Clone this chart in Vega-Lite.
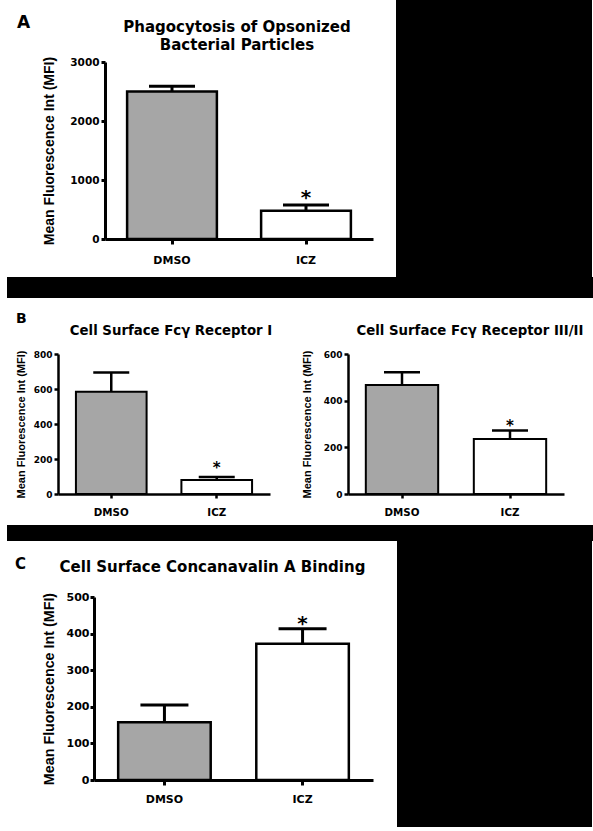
{
"$schema":"https://vega.github.io/schema/vega-lite/v6.json",
"background":"white",
"padding":0,
"spacing":0,
"bounds":"full",
"config":{
 "view":{"stroke":null},
 "concat":{"spacing":0},
 "axis":{"domainColor":"black","domainWidth":3,"tickColor":"black","tickWidth":3,"labelColor":"black","labelFont":"DejaVu Sans","labelFontWeight":"bold","titleFont":"Liberation Sans","titleFontWeight":"bold","titleColor":"black","grid":false},
 "axisX":{"labelAngle":0,"zindex":1},
 "title":{"font":"DejaVu Sans","fontWeight":"bold","color":"black","frame":"group"}
},
"vconcat":[
 {"hconcat":[
  {"concat":[
   {"width":103,"height":62,"data":{"values":[{"s":0}]},"mark":{"type":"point","opacity":0}},
   {"width":268,"height":62,"data":{"values":[{"s":0}]},"mark":{"type":"point","opacity":0}},
   {"width":103,"height":177,"data":{"values":[{"s":0}]},"mark":{"type":"point","opacity":0},"title":{"text":"A","anchor":"start","dx":15,"offset":30,"fontSize":17}},
   {"width":268,"height":177,
    "data":{"values":[{"group":"DMSO","mean":2500,"upper":2590,"sig":""},{"group":"ICZ","mean":480,"upper":575,"sig":"*"}]},
    "title":{"text":["Phagocytosis of Opsonized","Bacterial Particles"],"anchor":"middle","dx":-2,"offset":3,"lineHeight":18.4,"fontSize":15},
    "encoding":{"x":{"field":"group","type":"nominal","sort":["DMSO","ICZ"],"scale":{"paddingInner":0.33,"paddingOuter":0.165},"axis":{"title":null,"labelFontSize":11,"labelPadding":10,"tickSize":5}}},
    "layer":[
     {"mark":{"type":"bar","stroke":"black","strokeWidth":2.5},
      "encoding":{"y":{"field":"mean","type":"quantitative","scale":{"domain":[0,3000],"nice":false},"axis":{"values":[0,1000,2000,3000],"format":"d","title":"Mean Fluorescence Int (MFI)","titleFontSize":14,"titlePadding":13,"labelFontSize":10.5,"labelPadding":2,"tickSize":4}},
       "fill":{"field":"group","type":"nominal","scale":{"domain":["DMSO","ICZ"],"range":["#a6a6a6","#ffffff"]},"legend":null}}},
     {"mark":{"type":"rule","color":"black","strokeWidth":3},"encoding":{"y":{"field":"mean","type":"quantitative","axis":{"values":[0,1000,2000,3000],"format":"d","title":"Mean Fluorescence Int (MFI)","titleFontSize":14,"titlePadding":13,"labelFontSize":10.5,"labelPadding":2,"tickSize":4}},"y2":{"field":"upper"}}},
     {"mark":{"type":"tick","color":"black","size":46,"thickness":3,"opacity":1},"encoding":{"y":{"field":"upper","type":"quantitative","axis":{"values":[0,1000,2000,3000],"format":"d","title":"Mean Fluorescence Int (MFI)","titleFontSize":14,"titlePadding":13,"labelFontSize":10.5,"labelPadding":2,"tickSize":4}}}},
     {"mark":{"type":"text","font":"DejaVu Sans","fontWeight":"bold","fontSize":20,"baseline":"alphabetic","dy":-1.3,"color":"black"},"encoding":{"y":{"field":"upper","type":"quantitative","axis":{"values":[0,1000,2000,3000],"format":"d","title":"Mean Fluorescence Int (MFI)","titleFontSize":14,"titlePadding":13,"labelFontSize":10.5,"labelPadding":2,"tickSize":4}},"text":{"field":"sig"}}}
    ]},
   {"width":103,"height":38,"data":{"values":[{"s":0}]},"mark":{"type":"point","opacity":0}},
   {"width":268,"height":38,"data":{"values":[{"s":0}]},"mark":{"type":"point","opacity":0}}
  ],"columns":2,"spacing":0,"bounds":"flush","align":"each"},
  {"width":23,"height":277,"data":{"values":[{"s":0}]},"mark":{"type":"point","opacity":0}},
  {"width":196,"height":277,"data":{"values":[{"s":0}]},"mark":{"type":"point","opacity":0},"view":{"fill":"black","stroke":null}},
  {"width":3,"height":277,"data":{"values":[{"s":0}]},"mark":{"type":"point","opacity":0}}
 ],"spacing":0},
 {"hconcat":[
  {"width":3,"height":21,"data":{"values":[{"s":0}]},"mark":{"type":"point","opacity":0}},
  {"width":587,"height":21,"data":{"values":[{"s":0}]},"mark":{"type":"point","opacity":0},"view":{"fill":"black","stroke":null}},
  {"width":3,"height":21,"data":{"values":[{"s":0}]},"mark":{"type":"point","opacity":0}}
 ],"spacing":0},
 {"concat":[
  {"width":56,"height":56,"data":{"values":[{"s":0}]},"mark":{"type":"point","opacity":0}},
  {"width":212,"height":56,"data":{"values":[{"s":0}]},"mark":{"type":"point","opacity":0}},
  {"width":78,"height":56,"data":{"values":[{"s":0}]},"mark":{"type":"point","opacity":0}},
  {"width":216,"height":56,"data":{"values":[{"s":0}]},"mark":{"type":"point","opacity":0}},
  {"width":31,"height":56,"data":{"values":[{"s":0}]},"mark":{"type":"point","opacity":0}},
  {"width":56,"height":140,"data":{"values":[{"s":0}]},"mark":{"type":"point","opacity":0},"title":{"text":"B","anchor":"start","dx":14,"offset":28,"fontSize":14}},
  {"width":212,"height":140,
   "data":{"values":[{"group":"DMSO","mean":585,"upper":695,"sig":""},{"group":"ICZ","mean":80,"upper":97,"sig":"*"}]},
   "title":{"text":"Cell Surface Fcγ Receptor I","anchor":"middle","dx":7,"offset":13,"fontSize":13.3},
   "encoding":{"x":{"field":"group","type":"nominal","sort":["DMSO","ICZ"],"scale":{"paddingInner":0.33,"paddingOuter":0.17},"axis":{"title":null,"labelFontSize":10.3,"labelPadding":9,"tickSize":4,"domainWidth":2.5,"tickWidth":2.5}}},
   "layer":[
    {"mark":{"type":"bar","stroke":"black","strokeWidth":2},
     "encoding":{"y":{"field":"mean","type":"quantitative","scale":{"domain":[0,800],"nice":false},"axis":{"values":[0,200,400,600,800],"title":"Mean Fluorescence Int (MFI)","titleFontSize":11,"titlePadding":7,"labelFontSize":9,"labelPadding":2,"tickSize":4,"domainWidth":2.5,"tickWidth":2.5}},
      "fill":{"field":"group","type":"nominal","scale":{"domain":["DMSO","ICZ"],"range":["#a6a6a6","#ffffff"]},"legend":null}}},
    {"mark":{"type":"rule","color":"black","strokeWidth":2.5},"encoding":{"y":{"field":"mean","type":"quantitative","axis":{"values":[0,200,400,600,800],"title":"Mean Fluorescence Int (MFI)","titleFontSize":11,"titlePadding":7,"labelFontSize":9,"labelPadding":2,"tickSize":4,"domainWidth":2.5,"tickWidth":2.5}},"y2":{"field":"upper"}}},
    {"mark":{"type":"tick","color":"black","size":36,"thickness":2.5,"opacity":1},"encoding":{"y":{"field":"upper","type":"quantitative","axis":{"values":[0,200,400,600,800],"title":"Mean Fluorescence Int (MFI)","titleFontSize":11,"titlePadding":7,"labelFontSize":9,"labelPadding":2,"tickSize":4,"domainWidth":2.5,"tickWidth":2.5}}}},
    {"mark":{"type":"text","font":"DejaVu Sans","fontWeight":"bold","fontSize":15,"baseline":"alphabetic","dy":-3.7,"color":"black"},"encoding":{"y":{"field":"upper","type":"quantitative","axis":{"values":[0,200,400,600,800],"title":"Mean Fluorescence Int (MFI)","titleFontSize":11,"titlePadding":7,"labelFontSize":9,"labelPadding":2,"tickSize":4,"domainWidth":2.5,"tickWidth":2.5}},"text":{"field":"sig"}}}
   ]},
  {"width":78,"height":140,"data":{"values":[{"s":0}]},"mark":{"type":"point","opacity":0}},
  {"width":216,"height":140,
   "data":{"values":[{"group":"DMSO","mean":467,"upper":522,"sig":""},{"group":"ICZ","mean":236,"upper":272,"sig":"*"}]},
   "title":{"text":"Cell Surface Fcγ Receptor III/II","anchor":"middle","dx":14,"offset":13,"fontSize":13.3},
   "encoding":{"x":{"field":"group","type":"nominal","sort":["DMSO","ICZ"],"scale":{"paddingInner":0.33,"paddingOuter":0.165},"axis":{"title":null,"labelFontSize":10.3,"labelPadding":9,"tickSize":4,"domainWidth":2.5,"tickWidth":2.5}}},
   "layer":[
    {"mark":{"type":"bar","stroke":"black","strokeWidth":2},
     "encoding":{"y":{"field":"mean","type":"quantitative","scale":{"domain":[0,600],"nice":false},"axis":{"values":[0,200,400,600],"title":"Mean Fluorescence Int (MFI)","titleFontSize":11,"titlePadding":11,"labelFontSize":9,"labelPadding":2,"tickSize":4,"domainWidth":2.5,"tickWidth":2.5}},
      "fill":{"field":"group","type":"nominal","scale":{"domain":["DMSO","ICZ"],"range":["#a6a6a6","#ffffff"]},"legend":null}}},
    {"mark":{"type":"rule","color":"black","strokeWidth":2.5},"encoding":{"y":{"field":"mean","type":"quantitative","axis":{"values":[0,200,400,600],"title":"Mean Fluorescence Int (MFI)","titleFontSize":11,"titlePadding":11,"labelFontSize":9,"labelPadding":2,"tickSize":4,"domainWidth":2.5,"tickWidth":2.5}},"y2":{"field":"upper"}}},
    {"mark":{"type":"tick","color":"black","size":36,"thickness":2.5,"opacity":1},"encoding":{"y":{"field":"upper","type":"quantitative","axis":{"values":[0,200,400,600],"title":"Mean Fluorescence Int (MFI)","titleFontSize":11,"titlePadding":11,"labelFontSize":9,"labelPadding":2,"tickSize":4,"domainWidth":2.5,"tickWidth":2.5}}}},
    {"mark":{"type":"text","font":"DejaVu Sans","fontWeight":"bold","fontSize":15,"baseline":"alphabetic","dy":0.9,"color":"black"},"encoding":{"y":{"field":"upper","type":"quantitative","axis":{"values":[0,200,400,600],"title":"Mean Fluorescence Int (MFI)","titleFontSize":11,"titlePadding":11,"labelFontSize":9,"labelPadding":2,"tickSize":4,"domainWidth":2.5,"tickWidth":2.5}},"text":{"field":"sig"}}}
   ]},
  {"width":31,"height":140,"data":{"values":[{"s":0}]},"mark":{"type":"point","opacity":0}},
  {"width":56,"height":31,"data":{"values":[{"s":0}]},"mark":{"type":"point","opacity":0}},
  {"width":212,"height":31,"data":{"values":[{"s":0}]},"mark":{"type":"point","opacity":0}},
  {"width":78,"height":31,"data":{"values":[{"s":0}]},"mark":{"type":"point","opacity":0}},
  {"width":216,"height":31,"data":{"values":[{"s":0}]},"mark":{"type":"point","opacity":0}},
  {"width":31,"height":31,"data":{"values":[{"s":0}]},"mark":{"type":"point","opacity":0}}
 ],"columns":5,"spacing":0,"bounds":"flush","align":"each"},
 {"hconcat":[
  {"width":3,"height":16,"data":{"values":[{"s":0}]},"mark":{"type":"point","opacity":0}},
  {"width":587,"height":16,"data":{"values":[{"s":0}]},"mark":{"type":"point","opacity":0},"view":{"fill":"black","stroke":null}},
  {"width":3,"height":16,"data":{"values":[{"s":0}]},"mark":{"type":"point","opacity":0}}
 ],"spacing":0},
 {"hconcat":[
  {"concat":[
   {"width":92,"height":56,"data":{"values":[{"s":0}]},"mark":{"type":"point","opacity":0}},
   {"width":279,"height":56,"data":{"values":[{"s":0}]},"mark":{"type":"point","opacity":0}},
   {"width":92,"height":183,"data":{"values":[{"s":0}]},"mark":{"type":"point","opacity":0},"title":{"text":"C","anchor":"start","dx":13,"offset":25.5,"fontSize":15}},
   {"width":279,"height":183,
    "data":{"values":[{"group":"DMSO","mean":158,"upper":205,"sig":""},{"group":"ICZ","mean":372,"upper":413,"sig":"*"}]},
    "title":{"text":"Cell Surface Concanavalin A Binding","anchor":"middle","dx":-21,"offset":16,"fontSize":15},
    "encoding":{"x":{"field":"group","type":"nominal","sort":["DMSO","ICZ"],"scale":{"paddingInner":0.33,"paddingOuter":0.175},"axis":{"title":null,"labelFontSize":11,"labelPadding":8,"tickSize":5}}},
    "layer":[
     {"mark":{"type":"bar","stroke":"black","strokeWidth":2.5},
      "encoding":{"y":{"field":"mean","type":"quantitative","scale":{"domain":[0,500],"nice":false},"axis":{"values":[0,100,200,300,400,500],"title":"Mean Fluorescence Int (MFI)","titleFontSize":14.3,"titlePadding":10,"labelFontSize":11,"labelPadding":1,"tickSize":4}},
       "fill":{"field":"group","type":"nominal","scale":{"domain":["DMSO","ICZ"],"range":["#a6a6a6","#ffffff"]},"legend":null}}},
     {"mark":{"type":"rule","color":"black","strokeWidth":3},"encoding":{"y":{"field":"mean","type":"quantitative","axis":{"values":[0,100,200,300,400,500],"title":"Mean Fluorescence Int (MFI)","titleFontSize":14.3,"titlePadding":10,"labelFontSize":11,"labelPadding":1,"tickSize":4}},"y2":{"field":"upper"}}},
     {"mark":{"type":"tick","color":"black","size":48,"thickness":3,"opacity":1},"encoding":{"y":{"field":"upper","type":"quantitative","axis":{"values":[0,100,200,300,400,500],"title":"Mean Fluorescence Int (MFI)","titleFontSize":14.3,"titlePadding":10,"labelFontSize":11,"labelPadding":1,"tickSize":4}}}},
     {"mark":{"type":"text","font":"DejaVu Sans","fontWeight":"bold","fontSize":20,"baseline":"alphabetic","dy":1.4,"color":"black"},"encoding":{"y":{"field":"upper","type":"quantitative","axis":{"values":[0,100,200,300,400,500],"title":"Mean Fluorescence Int (MFI)","titleFontSize":14.3,"titlePadding":10,"labelFontSize":11,"labelPadding":1,"tickSize":4}},"text":{"field":"sig"}}}
    ]},
   {"width":92,"height":51,"data":{"values":[{"s":0}]},"mark":{"type":"point","opacity":0}},
   {"width":279,"height":51,"data":{"values":[{"s":0}]},"mark":{"type":"point","opacity":0}}
  ],"columns":2,"spacing":0,"bounds":"flush","align":"each"},
  {"width":24,"height":290,"data":{"values":[{"s":0}]},"mark":{"type":"point","opacity":0}},
  {"width":195,"height":286,"data":{"values":[{"s":0}]},"mark":{"type":"point","opacity":0},"view":{"fill":"black","stroke":null}},
  {"width":3,"height":290,"data":{"values":[{"s":0}]},"mark":{"type":"point","opacity":0}}
 ],"spacing":0}
]
}
